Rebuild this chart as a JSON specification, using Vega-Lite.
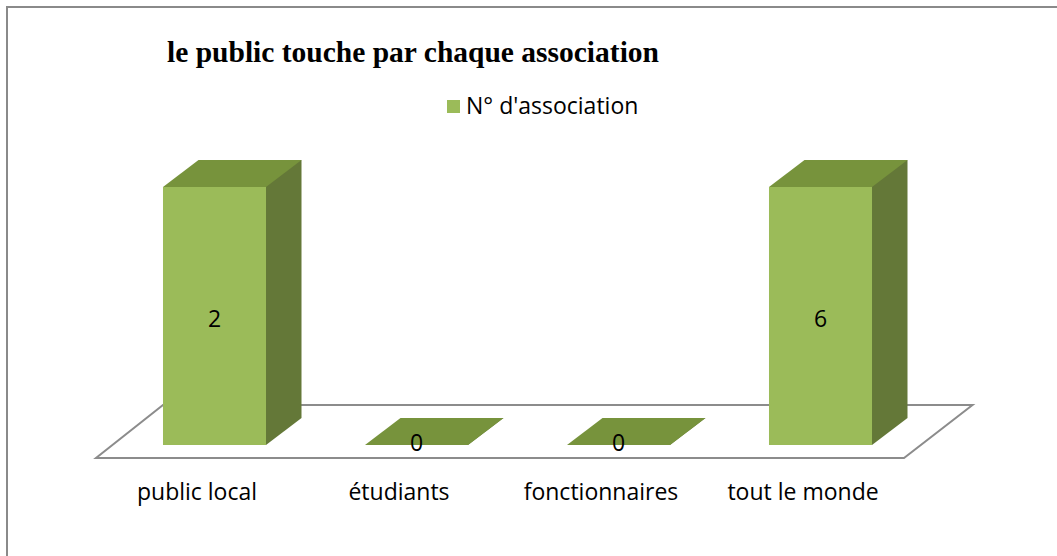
{
  "$schema": "https://vega.github.io/schema/vega-lite/v6.json",
  "width": 1050,
  "height": 549,
  "autosize": {"type": "none"},
  "padding": {"left": 7, "top": 7, "right": 0, "bottom": 0},
  "background": "white",
  "config": {
    "view": {"stroke": "#8a8a8a", "strokeWidth": 2, "strokeDash": [1050, 1599, 549]},
    "font": "Open Sans"
  },
  "title": {
    "text": "le public touche par chaque association",
    "anchor": "start",
    "frame": "group",
    "font": "Liberation Serif",
    "fontSize": 29.5,
    "fontWeight": "bold",
    "color": "black",
    "baseline": "alphabetic",
    "offset": 0,
    "dx": 160,
    "dy": 84
  },
  "data": {
    "values": [
      {"categorie": "public local", "valeur": 2, "serie": "N° d'association"},
      {"categorie": "étudiants", "valeur": 0, "serie": "N° d'association"},
      {"categorie": "fonctionnaires", "valeur": 0, "serie": "N° d'association"},
      {"categorie": "tout le monde", "valeur": 6, "serie": "N° d'association"}
    ]
  },
  "encoding": {
    "x": {
      "field": "categorie",
      "type": "nominal",
      "sort": null,
      "scale": {"range": [89, 897], "paddingInner": 0.49, "paddingOuter": 0.245},
      "axis": {
        "title": null,
        "domain": false,
        "ticks": false,
        "tickSize": 0,
        "grid": false,
        "labelPadding": 0,
        "labelAngle": 0,
        "labelFont": "Open Sans",
        "labelFontSize": 23,
        "labelColor": "black",
        "labelBaseline": "middle",
        "labelLimit": 400,
        "offset": -64
      }
    }
  },
  "layer": [
    {
      "transform": [{"filter": "datum.categorie === 'public local'"}],
      "mark": {
        "type": "point",
        "shape": "M0,0L808,0L876.5,-53L67,-53Z",
        "size": 4,
        "filled": true,
        "fill": "white",
        "stroke": "#8c8c8c",
        "strokeWidth": 2,
        "opacity": 1,
        "xOffset": -101,
        "yOffset": 13
      },
      "encoding": {
        "y": {"datum": 0, "type": "quantitative", "scale": {"domain": [0, 2], "clamp": true, "range": [438, 180]}, "axis": null}
      }
    },
    {
      "mark": {"type": "bar", "width": 35.5, "xOffset": 86.75, "yOffset": -27, "y2Offset": -27, "color": "#647838"},
      "encoding": {
        "y": {"field": "valeur", "type": "quantitative", "scale": {"domain": [0, 2], "clamp": true, "range": [438, 180]}, "axis": null},
        "y2": {"datum": 0}
      }
    },
    {
      "mark": {
        "type": "point",
        "shape": "M0,0L0,-27L35.5,-27Z",
        "size": 4,
        "filled": true,
        "color": "#647838",
        "strokeWidth": 0,
        "opacity": 1,
        "xOffset": 69
      },
      "encoding": {
        "y": {"datum": 0, "type": "quantitative", "scale": {"domain": [0, 2], "clamp": true, "range": [438, 180]}, "axis": null}
      }
    },
    {
      "mark": {"type": "bar", "xOffset": 17.5},
      "encoding": {
        "y": {"field": "valeur", "type": "quantitative", "scale": {"domain": [0, 2], "clamp": true, "range": [438, 180]}, "axis": null},
        "color": {
          "field": "serie",
          "type": "nominal",
          "scale": {"range": ["#9BBB59"]},
          "legend": {
            "orient": "none",
            "legendX": 435,
            "legendY": 88,
            "title": null,
            "symbolType": "square",
            "symbolSize": 169,
            "symbolStrokeWidth": 0,
            "symbolOpacity": 1,
            "labelFont": "Open Sans",
            "labelFontSize": 23,
            "labelColor": "black",
            "labelOffset": 1,
            "labelLimit": 400,
            "padding": 0
          }
        }
      }
    },
    {
      "mark": {
        "type": "point",
        "shape": "M0,0L103,0L138.5,-27L35.5,-27Z",
        "size": 4,
        "filled": true,
        "color": "#77933C",
        "strokeWidth": 0,
        "opacity": 1,
        "xOffset": -34
      },
      "encoding": {
        "y": {"field": "valeur", "type": "quantitative", "scale": {"domain": [0, 2], "clamp": true, "range": [438, 180]}, "axis": null}
      }
    },
    {
      "mark": {"type": "text", "xOffset": 17.5, "yOffset": -1, "baseline": "middle", "font": "Open Sans", "fontSize": 23, "color": "black"},
      "encoding": {
        "text": {"field": "valeur", "type": "quantitative"},
        "y": {"field": "valeur", "type": "quantitative", "scale": {"domain": [0, 2], "clamp": true, "range": [438, 314]}, "axis": null}
      }
    }
  ],
  "resolve": {"scale": {"y": "independent"}}
}
